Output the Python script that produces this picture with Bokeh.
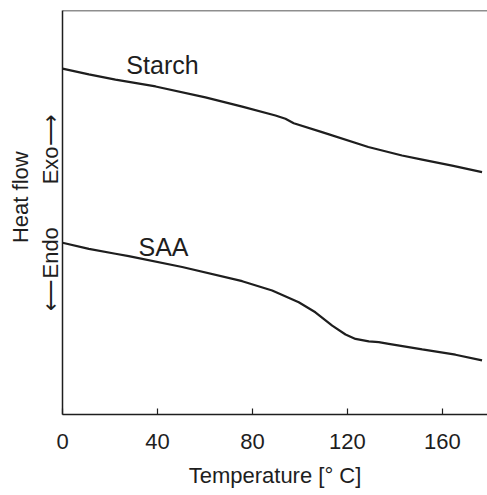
from bokeh.plotting import figure
from bokeh.models import FixedTicker, Label, Span, Range1d, LinearAxis
from bokeh.embed import file_html
from bokeh.resources import INLINE

# Temperature [°C] and heat flow (arbitrary units)
starch_t = [0, 11.1, 22.3, 39.2, 60.2, 75.7, 89.7, 93.9, 97.4, 109.3, 128.8, 143.0, 151.5, 164.1, 176.7]
starch_hf = [85.6, 84.2, 82.9, 81.2, 78.5, 76.2, 74.0, 73.2, 72.1, 69.9, 66.2, 64.1, 63.1, 61.6, 60.0]

saa_t = [0, 11.1, 22.3, 27.9, 50.4, 75.7, 88.3, 99.5, 106.5, 113.6, 119.2, 123.4, 129.0, 133.2, 137.4, 151.5, 165.5, 176.7]
saa_hf = [42.5, 41.0, 39.8, 39.2, 36.5, 33.0, 30.7, 27.8, 25.3, 22.0, 19.8, 18.7, 18.1, 17.9, 17.5, 16.1, 14.8, 13.4]

x_ticks = [0, 40, 80, 120, 160]

FONT = "Liberation Sans"
INK = "#1e1e1e"
NB = "\u00a0"

p = figure(frame_width=425, frame_height=404, output_backend="svg", toolbar_location=None,
           x_range=Range1d(0, 179), y_range=Range1d(0, 100),
           min_border_left=62, min_border_top=10, min_border_right=0, min_border_bottom=0)
p.outline_line_color = None
p.grid.visible = False
p.background_fill_color = "white"
p.border_fill_color = "white"

p.line(starch_t, starch_hf, line_color=INK, line_width=2.2)
p.line(saa_t, saa_hf, line_color=INK, line_width=2.2)

# x axis
xa = p.xaxis[0]
xa.ticker = FixedTicker(ticks=x_ticks)
xa.major_tick_in = 6
xa.major_tick_out = 0
xa.minor_tick_line_color = None
xa.axis_line_width = 1.5
xa.axis_line_color = INK
xa.major_tick_line_color = INK
xa.major_tick_line_width = 1.2
xa.major_label_text_font = FONT
xa.major_label_text_font_size = "22px"
xa.major_label_text_color = INK
xa.major_label_standoff = 19
xa.axis_label = "Temperature [° C]"
xa.axis_label_text_font = FONT
xa.axis_label_text_font_size = "22px"
xa.axis_label_text_font_style = "normal"
xa.axis_label_text_color = INK
xa.axis_label_standoff = 11

# y axis: bare line, with the Endo/Exo label
ya = p.yaxis[0]
ya.ticker = FixedTicker(ticks=[])
ya.minor_tick_line_color = None
ya.major_tick_line_color = None
ya.major_tick_in = 0
ya.major_tick_out = 0
ya.major_label_standoff = 0
ya.axis_line_width = 1.5
ya.axis_line_color = INK
ya.axis_label = "⟵Endo" + NB * 7 + "Exo⟶"
ya.axis_label_text_font = FONT
ya.axis_label_text_font_size = "22px"
ya.axis_label_text_font_style = "normal"
ya.axis_label_text_color = INK
ya.axis_label_standoff = 0

# outer label axis
ya2 = LinearAxis(ticker=FixedTicker(ticks=[]), axis_line_color=None,
                 major_tick_line_color=None, minor_tick_line_color=None,
                 major_tick_in=0, major_tick_out=0, major_label_standoff=0,
                 axis_label=NB * 5 + "Heat flow", axis_label_text_font=FONT,
                 axis_label_text_font_size="22px", axis_label_text_font_style="normal",
                 axis_label_text_color=INK, axis_label_standoff=2)
p.add_layout(ya2, "left")

# top frame line
p.add_layout(Span(location=100, dimension="width", line_color=INK, line_width=1.5))

# curve labels
p.add_layout(Label(x=26.9, y=86.4, text="Starch", text_font=FONT, text_font_size="25px",
                   text_color=INK, text_baseline="alphabetic", text_align="left"))
p.add_layout(Label(x=32.0, y=41.4, text="SAA", text_font=FONT, text_font_size="25px",
                   text_color=INK, text_baseline="alphabetic", text_align="left"))

open("out.html", "w").write(file_html(p, INLINE))
